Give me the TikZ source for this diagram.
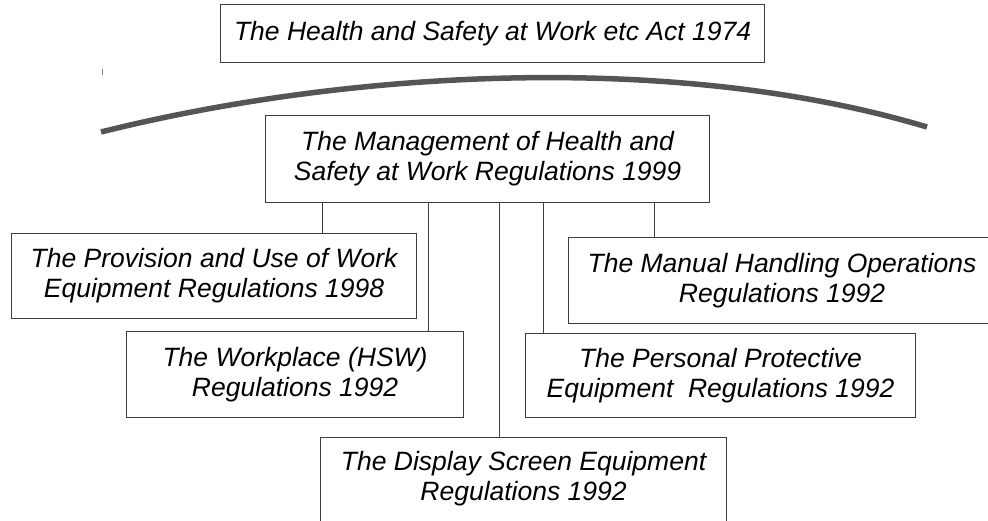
\documentclass[tikz,border=0pt]{standalone}
\usepackage{fontspec}
\setmainfont{Liberation Sans}
\usepackage{xcolor}

\definecolor{boxline}{HTML}{3F3F3F}
\definecolor{arcgrey}{HTML}{555555}

\begin{document}
\begin{tikzpicture}[
    x=1pt, y=-1pt,
    box/.style={draw=boxline, line width=1.1pt, align=center, inner sep=3pt, anchor=north west,
      font=\fontsize{26.5}{30}\selectfont\itshape},
    link/.style={draw=boxline, line width=1pt},
    swoosh/.style={draw=arcgrey, line width=5.5pt},
  ]
  \useasboundingbox (0,0) rectangle (988,520);
  \clip (0,0) rectangle (988,520);

  % The Act and the arc under it
  \node[box, minimum width=544pt, minimum height=58pt] (act) at (220,4) {The Health and Safety at Work etc Act 1974};
  \draw[link, draw=gray] (102,69) -- (102,75);
  \draw[swoosh] (101,132) .. controls (351,69.5) and (677,52) .. (927,127);

  % Regulations
  \node[box, minimum width=444pt, minimum height=87pt] (mgmt) at (265,115) {The Management of Health and\\Safety at Work Regulations 1999};
  \node[box, minimum width=405pt, minimum height=85pt] (puwer) at (11,233) {The Provision and Use of Work\\Equipment Regulations 1998};
  \node[box, minimum width=427pt, minimum height=86pt] (manual) at (568,237) {The Manual Handling Operations\\Regulations 1992};
  \node[box, minimum width=337pt, minimum height=86pt] (workplace) at (126,331) {The Workplace (HSW)\\Regulations 1992};
  \node[box, minimum width=390pt, minimum height=84pt] (ppe) at (525,333) {The Personal Protective\\Equipment\ \ Regulations 1992};
  \node[box, inner ysep=14pt] (dse) at (320,437) {\parbox[t][90pt][t]{400pt}{\centering The Display Screen Equipment\\Regulations 1992}};

  % Where the links leave the Management box
  \coordinate (tapA) at (322,0);
  \coordinate (tapB) at (428,0);
  \coordinate (tapC) at (499,0);
  \coordinate (tapD) at (543,0);
  \coordinate (tapE) at (654,0);

  % Links
  \draw[link] (mgmt.south -| tapA) -- (puwer.north -| tapA);
  \draw[link] (mgmt.south -| tapB) -- (workplace.north -| tapB);
  \draw[link] (mgmt.south -| tapC) -- (dse.north -| tapC);
  \draw[link] (mgmt.south -| tapD) -- (ppe.north -| tapD);
  \draw[link] (mgmt.south -| tapE) -- (manual.north -| tapE);

\end{tikzpicture}
\end{document}
